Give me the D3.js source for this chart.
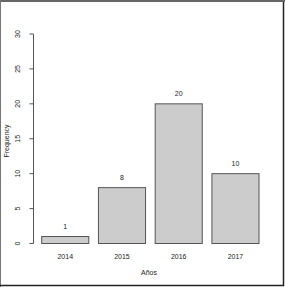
<!DOCTYPE html>
<head>
<meta charset="utf-8">
<style>
body { margin: 0; background: #fff; }
svg { display: block; font-family: "Liberation Sans", Arial, sans-serif; }
</style>
</head>
<body>
<svg width="285" height="287"></svg>
<script src="https://d3js.org/d3.v7.min.js"></script>
<script>
// data
var years = ["2014", "2015", "2016", "2017"];
var counts = [1, 8, 20, 10];
var yTicks = [0, 5, 10, 15, 20, 25, 30];

var svg = d3.select("svg");

// frame around the image
svg.append("rect").attr("x", 0).attr("y", 0).attr("width", 285).attr("height", 287).attr("fill", "#fff");
svg.append("line").attr("x1", 0).attr("x2", 285).attr("y1", 1).attr("y2", 1)
  .attr("stroke", "#666").attr("stroke-width", 2);
svg.append("line").attr("x1", 0.5).attr("x2", 0.5).attr("y1", 0).attr("y2", 287)
  .attr("stroke", "#777").attr("stroke-width", 1);
svg.append("line").attr("x1", 283.5).attr("x2", 283.5).attr("y1", 2).attr("y2", 286)
  .attr("stroke", "#222").attr("stroke-width", 1.5);
svg.append("line").attr("x1", 0).attr("x2", 284).attr("y1", 285.5).attr("y2", 285.5)
  .attr("stroke", "#222").attr("stroke-width", 1.5);

var y = d3.scaleLinear().domain([0, 30]).range([243.5, 34]);
var x = d3.scaleBand().domain(years).range([41.7, 259]).paddingInner(0.17).paddingOuter(0);

// y axis
var ax = svg.append("g").attr("transform", "translate(33.5,0)");
ax.append("line").attr("x1", 0).attr("x2", 0).attr("y1", y(0)).attr("y2", y(30))
  .attr("stroke", "#555");
ax.selectAll("line.tick").data(yTicks).enter().append("line")
  .attr("class", "tick")
  .attr("x1", -4).attr("x2", 0)
  .attr("y1", function(d){ return y(d); }).attr("y2", function(d){ return y(d); })
  .attr("stroke", "#555");
ax.selectAll("text").data(yTicks).enter().append("text")
  .attr("transform", function(d){ return "translate(-16," + y(d) + ") rotate(-90)"; })
  .attr("text-anchor", "middle")
  .attr("dy", "0.35em")
  .attr("font-size", 7)
  .attr("fill", "#222")
  .text(function(d){ return d; });

// bars
svg.selectAll("rect.bar").data(counts).enter().append("rect")
  .attr("class", "bar")
  .attr("x", function(d, i){ return x(years[i]); })
  .attr("y", function(d){ return y(d); })
  .attr("width", x.bandwidth())
  .attr("height", function(d){ return y(0) - y(d); })
  .attr("fill", "#cccccc")
  .attr("stroke", "#555")
  .attr("stroke-width", 1);

// counts above bars
svg.selectAll("text.lab").data(counts).enter().append("text")
  .attr("class", "lab")
  .attr("x", function(d, i){ return x(years[i]) + x.bandwidth() / 2; })
  .attr("y", function(d){ return y(d) - 10; })
  .attr("dy", "0.35em")
  .attr("text-anchor", "middle")
  .attr("font-size", 7)
  .attr("fill", "#222")
  .text(function(d){ return d; });

// category labels
svg.selectAll("text.cat").data(years).enter().append("text")
  .attr("class", "cat")
  .attr("x", function(d){ return x(d) + x.bandwidth() / 2; })
  .attr("y", 256.7)
  .attr("dy", "0.35em")
  .attr("text-anchor", "middle")
  .attr("font-size", 7)
  .attr("fill", "#222")
  .text(function(d){ return d; });

// axis titles
svg.append("text")
  .attr("x", 149).attr("y", 272.7).attr("dy", "0.35em")
  .attr("text-anchor", "middle").attr("font-size", 7).attr("fill", "#222")
  .text("Años");
svg.append("text")
  .attr("transform", "translate(7,141) rotate(-90)")
  .attr("dy", "0.35em")
  .attr("text-anchor", "middle").attr("font-size", 7).attr("fill", "#222")
  .text("Frequency");
</script>
</body>
</html>
